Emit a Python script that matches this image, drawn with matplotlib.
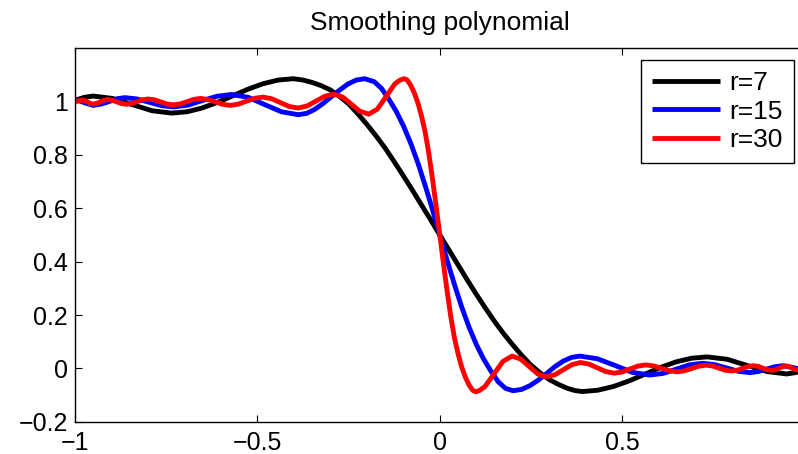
import matplotlib
matplotlib.use("Agg")
import matplotlib.pyplot as plt

# points: (x, y)
black_pts = [
    (-1.0, 1.005), (-0.975, 1.016), (-0.951, 1.021), (-0.897, 1.012), (-0.843, 0.989),
    (-0.789, 0.966), (-0.735, 0.957), (-0.693, 0.962), (-0.652, 0.976), (-0.610, 0.997),
    (-0.569, 1.021), (-0.527, 1.046), (-0.485, 1.067), (-0.443, 1.081), (-0.402, 1.086),
    (-0.375, 1.081), (-0.35, 1.072), (-0.325, 1.060), (-0.30, 1.044), (-0.275, 1.020),
    (-0.25, 0.992), (-0.225, 0.955), (-0.20, 0.915), (-0.175, 0.872), (-0.15, 0.826),
    (-0.125, 0.775), (-0.10, 0.722), (-0.075, 0.668), (-0.05, 0.612), (-0.025, 0.557),
    (0.0, 0.500), (0.025, 0.444), (0.05, 0.388), (0.075, 0.332), (0.10, 0.278),
    (0.125, 0.226), (0.15, 0.176), (0.175, 0.130), (0.20, 0.088), (0.225, 0.048),
    (0.25, 0.012), (0.275, -0.017), (0.30, -0.042), (0.325, -0.060), (0.35, -0.075),
    (0.37, -0.083), (0.39, -0.087), (0.433, -0.082), (0.476, -0.068), (0.519, -0.047),
    (0.562, -0.022), (0.604, 0.003), (0.647, 0.024), (0.690, 0.038), (0.733, 0.043),
    (0.788, 0.034), (0.842, 0.011), (0.897, -0.012), (0.951, -0.021), (0.975, -0.016),
    (1.0, -0.005),
]

blue_pts = [
    (-1.0, 1.002), (-0.99, 1.004), (-0.97, 0.994), (-0.95, 0.986), (-0.928, 0.991),
    (-0.905, 1.001), (-0.884, 1.011), (-0.863, 1.015), (-0.83, 1.010), (-0.797, 0.998),
    (-0.763, 0.985), (-0.73, 0.980), (-0.69, 0.987), (-0.651, 1.004), (-0.611, 1.020),
    (-0.571, 1.027), (-0.525, 1.016), (-0.480, 0.989), (-0.434, 0.962), (-0.388, 0.951),
    (-0.365, 0.956), (-0.343, 0.971), (-0.320, 0.993), (-0.297, 1.019), (-0.274, 1.044),
    (-0.252, 1.066), (-0.229, 1.081), (-0.206, 1.086), (-0.18, 1.075), (-0.16, 1.050),
    (-0.14, 1.010), (-0.12, 0.965), (-0.10, 0.910), (-0.08, 0.845), (-0.06, 0.770),
    (-0.04, 0.685), (-0.02, 0.595), (0.0, 0.500), (0.02, 0.405), (0.04, 0.315),
    (0.06, 0.230), (0.08, 0.155), (0.10, 0.090), (0.12, 0.035), (0.14, -0.010),
    (0.16, -0.050), (0.18, -0.075), (0.201, -0.084), (0.224, -0.079), (0.247, -0.065),
    (0.270, -0.044), (0.293, -0.019), (0.315, 0.006), (0.338, 0.027), (0.361, 0.041),
    (0.384, 0.046), (0.432, 0.036), (0.48, 0.011), (0.528, -0.015), (0.576, -0.025),
    (0.612, -0.019), (0.648, -0.003), (0.684, 0.013), (0.72, 0.019), (0.753, 0.014),
    (0.785, 0.002), (0.818, -0.011), (0.85, -0.016), (0.873, -0.012), (0.895, -0.003),
    (0.918, 0.006), (0.94, 0.010), (0.965, 0.004), (0.99, -0.004), (1.0, -0.002),
]

red_pts = [
    (-1.0, 1.000), (-0.98, 1.006), (-0.9725, 1.004), (-0.965, 0.9985), (-0.9575, 0.993),
    (-0.95, 0.991), (-0.94, 0.9935), (-0.93, 0.9995), (-0.92, 1.0055), (-0.91, 1.008),
    (-0.8975, 1.005), (-0.885, 0.999), (-0.8725, 0.993), (-0.86, 0.990), (-0.845, 0.993),
    (-0.83, 1.000), (-0.815, 1.007), (-0.80, 1.010), (-0.7825, 1.007), (-0.765, 0.999),
    (-0.7475, 0.991), (-0.73, 0.988), (-0.711, 0.9915), (-0.6925, 1.000), (-0.674, 1.0085),
    (-0.655, 1.012), (-0.635, 1.008), (-0.615, 0.999), (-0.595, 0.990), (-0.575, 0.986),
    (-0.5525, 0.9905), (-0.53, 1.0015), (-0.5075, 1.0125), (-0.485, 1.017), (-0.461, 1.011),
    (-0.437, 0.9965), (-0.413, 0.982), (-0.389, 0.976), (-0.364, 0.9836), (-0.3395, 1.002),
    (-0.315, 1.0204), (-0.29, 1.028), (-0.266, 1.017), (-0.2425, 0.9905), (-0.219, 0.964),
    (-0.195, 0.953), (-0.171, 0.972), (-0.147, 1.0195), (-0.123, 1.067), (-0.11, 1.080),
    (-0.099, 1.086), (-0.09, 1.082), (-0.08, 1.062), (-0.07, 1.033), (-0.06, 0.995),
    (-0.05, 0.945), (-0.04, 0.885), (-0.03, 0.805), (-0.02, 0.710), (-0.01, 0.607),
    (0.0, 0.500), (0.01, 0.393), (0.02, 0.290), (0.03, 0.195), (0.04, 0.115),
    (0.05, 0.055), (0.06, 0.005), (0.07, -0.033), (0.08, -0.062), (0.09, -0.082),
    (0.099, -0.088), (0.11, -0.082), (0.124, -0.068), (0.1485, -0.021), (0.173, 0.026),
    (0.198, 0.046), (0.2215, 0.035), (0.245, 0.007), (0.2685, -0.021), (0.292, -0.032),
    (0.3155, -0.024), (0.339, -0.005), (0.3625, 0.014), (0.386, 0.022), (0.409, 0.016),
    (0.432, 0.002), (0.455, -0.012), (0.478, -0.018), (0.50, -0.0135), (0.5215, -0.0025),
    (0.543, 0.0085), (0.565, 0.013), (0.5865, 0.009), (0.608, 0.0), (0.6295, -0.009),
    (0.651, -0.013), (0.671, -0.009), (0.6905, -0.0005), (0.71, 0.008), (0.73, 0.012),
    (0.7475, 0.009), (0.765, 0.001), (0.7825, -0.007), (0.80, -0.010), (0.815, -0.007),
    (0.83, 0.0), (0.845, 0.007), (0.86, 0.010), (0.8725, 0.0075), (0.885, 0.001),
    (0.8975, -0.0055), (0.91, -0.008), (0.92, -0.0055), (0.93, 0.0005), (0.94, 0.0065),
    (0.95, 0.009), (0.9575, 0.007), (0.965, 0.0015), (0.9725, -0.004), (0.98, -0.006),
    (1.0, 0.0),
]

series_labels = ["r=7", "r=15", "r=30"]
xticks = [-1, -0.5, 0, 0.5]
xtick_labels = ["\u22121", "\u22120.5", "0", "0.5"]
yticks = [-0.2, 0, 0.2, 0.4, 0.6, 0.8, 1.0]
ytick_labels = ["\u22120.2", "0", "0.2", "0.4", "0.6", "0.8", "1"]

plt.rcParams["font.family"] = ["Liberation Sans", "DejaVu Sans"]

W, H = 798, 454
fig = plt.figure(figsize=(W / 100, H / 100), dpi=100)
# axes box in pixels: left 75, right 804.6 (runs past the crop), top 48.3, bottom 421.7
ax = fig.add_axes([75 / W, 1 - 421.7 / H, (804.6 - 75) / W, (421.7 - 48.3) / H])

colors = ["black", "blue", "red"]
for pts, col, lab in zip([black_pts, blue_pts, red_pts], colors, series_labels):
    xs, ys = zip(*pts)
    ax.plot(xs, ys, color=col, lw=3.5, label=lab,
            solid_joinstyle="round", solid_capstyle="butt")

ax.set_xlim(-1, 1)
ax.set_ylim(-0.2, 1.2)
ax.set_xticks(xticks)
ax.set_xticklabels(xtick_labels)
ax.set_yticks(yticks)
ax.set_yticklabels(ytick_labels)
ax.tick_params(direction="in", length=5, width=0.8, top=True, right=True,
               labelsize=18, colors="black")
ax.tick_params(axis="x", pad=7)
ax.tick_params(axis="y", pad=5)
for sp in ax.spines.values():
    sp.set_linewidth(1.0)
    sp.set_color("black")

ax.set_title("Smoothing polynomial", fontsize=19, pad=13)

leg = ax.legend(loc="upper right", bbox_to_anchor=(794 / W, 1 - 60 / H),
                bbox_transform=fig.transFigure, borderaxespad=0, fontsize=19,
                fancybox=False, framealpha=1, edgecolor="black",
                handlelength=2.6, handletextpad=0.35, borderpad=0.42,
                labelspacing=0.17)
leg.get_frame().set_linewidth(1.0)

fig.savefig("out.png", dpi=100)
